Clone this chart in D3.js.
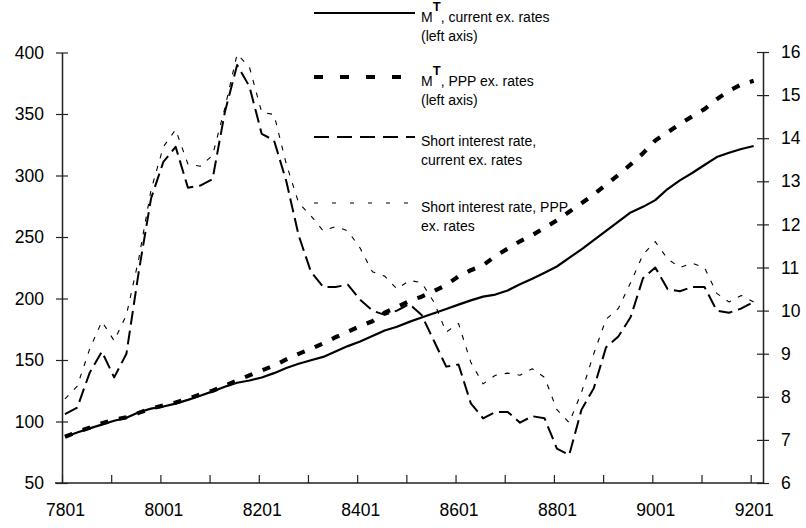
<!DOCTYPE html>
<html>
<head>
<meta charset="utf-8">
<script src="https://cdn.jsdelivr.net/npm/d3@7"></script>
<style>
  html, body { margin: 0; padding: 0; background: #fff; }
  svg { display: block; font-family: "Liberation Sans", Arial, Helvetica, sans-serif; }
</style>
</head>
<body>
<svg id="chart" width="806" height="528"></svg>
<script>
// ---- Data (quarterly, 1978Q1 .. 1992Q1) ----
const quarters = ["7801","7802","7803","7804","7901","7902","7903","7904","8001","8002","8003","8004",
  "8101","8102","8103","8104","8201","8202","8203","8204","8301","8302","8303","8304",
  "8401","8402","8403","8404","8501","8502","8503","8504","8601","8602","8603","8604",
  "8701","8702","8703","8704","8801","8802","8803","8804","8901","8902","8903","8904",
  "9001","9002","9003","9004","9101","9102","9103","9104","9201"];

// M^T, current exchange rates (left axis)
const mtCurrent = [87.6,91,94.4,97.5,100.6,103,107.5,110.5,112.2,114.5,117.6,121,
  124.5,128.2,131.5,133.3,135.8,139.3,143.5,147,149.8,152.5,157,161.3,
  165,169.5,174,177,181,184.5,188,191.5,195,198.5,201.5,203.2,
  206.5,211.5,216,221,226,233,240,247.5,255,262.5,270,274.5,
  280,289,296,302,308.5,315,318.5,321.5,324];

// M^T, PPP exchange rates (left axis)
const mtPPP = [87.6,91.5,95,98.5,101.5,103.5,107,110.5,113,115.5,118.5,122,
  125,129,133.5,137.5,141.5,145.5,150.5,155,159,163.5,168.5,173,
  177.5,181.5,188.5,193,198,201.5,206,211,218,223,227,234.5,
  240.5,246.5,251.5,257.5,263.5,270.5,277.5,284.5,292.5,300.5,309,318,
  328.5,335,342,348,354,362,369,374,377];

// Short interest rate, current exchange rates (right axis)
const rateCurrent = [7.6,7.75,8.55,9.05,8.45,9.0,10.9,12.6,13.45,13.8,12.85,12.9,
  13.05,14.6,15.7,15.2,14.1,13.95,13.0,11.75,10.9,10.55,10.55,10.6,
  10.25,10.0,9.9,10.0,10.15,9.9,9.3,8.7,8.75,7.85,7.5,7.65,
  7.65,7.4,7.55,7.5,6.8,6.65,7.7,8.2,9.15,9.4,9.85,10.75,
  11.0,10.5,10.45,10.55,10.55,10.0,9.95,10.05,10.2];

// Short interest rate, PPP exchange rates (right axis)
const ratePPP = [7.95,8.25,9.1,9.75,9.3,9.9,11.2,12.8,13.8,14.2,13.4,13.35,
  13.6,14.7,15.95,15.65,14.6,14.55,13.4,12.5,12.2,11.85,11.95,11.85,
  11.45,10.9,10.8,10.5,10.7,10.65,10.2,9.5,9.7,8.8,8.3,8.5,
  8.55,8.5,8.65,8.45,7.7,7.4,8.1,9.0,9.8,10.05,10.65,11.3,
  11.6,11.2,11.0,11.1,11.0,10.4,10.2,10.35,10.2];

// Tick labels
const xTickYears = [1978,1979,1980,1981,1982,1983,1984,1985,1986,1987,1988,1989,1990,1991,1992];
const xTickLabels = ["7801","","8001","","8201","","8401","","8601","","8801","","9001","","9201"];
const leftTicks = [50,100,150,200,250,300,350,400];
const rightTicks = [6,7,8,9,10,11,12,13,14,15,16];

// Legend
const legendItems = [
  {key: "mtCurrent", lines: ["M|T|, current ex. rates", "(left axis)"]},
  {key: "mtPPP", lines: ["M|T|, PPP ex. rates", "(left axis)"]},
  {key: "rateCurrent", lines: ["Short interest rate,", "current ex. rates"]},
  {key: "ratePPP", lines: ["Short interest rate, PPP", "ex. rates"]}
];

// ---- Layout ----
const svg = d3.select("#chart");
const plotLeft = 62, plotRight = 763, plotTop = 52.5, plotBottom = 483;

const quarterTime = quarters.map(q => 1900 + (+q.slice(0,2)) + ((+q.slice(2)) - 1) / 4 + 0.06);

const x = d3.scaleLinear().domain([1978, 1992.25]).range([plotLeft, plotRight]);
const yL = d3.scaleLinear().domain([50, 400]).range([plotBottom, plotTop]);
const yR = d3.scaleLinear().domain([6, 16]).range([plotBottom, 52]);

const styles = {
  mtCurrent:   {width: 2.2, dash: null, legendDash: null, legendEnd: 415},
  mtPPP:       {width: 4.2, dash: "8,11", legendDash: "9,17", legendEnd: 402},
  rateCurrent: {width: 2, dash: "14,6", legendDash: "15,8", legendEnd: 415},
  ratePPP:     {width: 1.1, dash: "5,8", legendDash: "4,14", legendEnd: 412}
};

const series = [
  {key: "rateCurrent", values: rateCurrent, y: yR},
  {key: "ratePPP", values: ratePPP, y: yR},
  {key: "mtCurrent", values: mtCurrent, y: yL},
  {key: "mtPPP", values: mtPPP, y: yL}
];

series.forEach(s => {
  const st = styles[s.key];
  const line = d3.line().x((d, i) => x(quarterTime[i])).y(d => s.y(d));
  svg.append("path")
    .datum(s.values)
    .attr("d", line)
    .attr("fill", "none")
    .attr("stroke", "#000")
    .attr("stroke-width", st.width)
    .attr("stroke-linejoin", "round")
    .attr("stroke-dasharray", st.dash);
});

// ---- Axes ----
const axisColor = "#222";
const fontSize = 17.5;

// Left axis
const gL = svg.append("g").attr("transform", `translate(${plotLeft},0)`)
  .call(d3.axisLeft(yL).tickValues(leftTicks).tickSize(0).tickPadding(18).tickFormat(d3.format("d")));
gL.select(".domain").attr("stroke", axisColor).attr("stroke-width", 1.5);
gL.selectAll(".tick").append("line").attr("x1", -6).attr("x2", 6).attr("stroke", axisColor).attr("stroke-width", 1.2);
gL.selectAll(".tick text").attr("font-size", fontSize).attr("fill", "#000").attr("font-family", "Liberation Sans, Arial, sans-serif");

// Right axis
const gR = svg.append("g").attr("transform", `translate(${plotRight},0)`)
  .call(d3.axisRight(yR).tickValues(rightTicks).tickSize(0).tickPadding(18).tickFormat(d3.format("d")));
gR.select(".domain").attr("stroke", axisColor).attr("stroke-width", 1.5);
gR.selectAll(".tick").append("line").attr("x1", -6).attr("x2", 6).attr("stroke", axisColor).attr("stroke-width", 1.2);
gR.selectAll(".tick text").attr("font-size", fontSize).attr("fill", "#000").attr("font-family", "Liberation Sans, Arial, sans-serif");

// Bottom axis
const gB = svg.append("g").attr("transform", `translate(0,${plotBottom})`)
  .call(d3.axisBottom(x).tickValues(xTickYears).tickSize(0).tickPadding(20)
    .tickFormat((d, i) => xTickLabels[i]));
gB.select(".domain").attr("d", `M${plotLeft - 7},0H${plotRight}`).attr("stroke", axisColor).attr("stroke-width", 1.5);
gB.selectAll(".tick").append("line").attr("y1", 0).attr("y2", -8).attr("stroke", axisColor).attr("stroke-width", 1.2);
gB.selectAll(".tick text").attr("font-size", fontSize).attr("fill", "#000")
  .attr("dx", 3).attr("dy", "0.75em").attr("font-family", "Liberation Sans, Arial, sans-serif");

// ---- Legend ----
const legendX1 = 314, legendTextX = 421;
const legendRowY = [13, 77, 137, 203];
const lg = svg.append("g");
legendItems.forEach((item, i) => {
  const st = styles[item.key];
  const ly = legendRowY[i];
  lg.append("line")
    .attr("x1", legendX1).attr("x2", st.legendEnd)
    .attr("y1", ly).attr("y2", ly)
    .attr("stroke", "#000").attr("stroke-width", st.width)
    .attr("stroke-dasharray", st.legendDash);
  item.lines.forEach((txt, j) => {
    const t = lg.append("text")
      .attr("x", legendTextX)
      .attr("y", ly + 9 + j * 19)
      .attr("font-size", 14)
      .attr("fill", "#000");
    if (txt.includes("|")) {
      const parts = txt.split("|");
      t.append("tspan").text(parts[0]);
      t.append("tspan").text(parts[1]).attr("dy", -11).attr("font-weight", "bold").attr("font-size", 13);
      t.append("tspan").text(parts[2]).attr("dy", 11);
    } else {
      t.text(txt);
    }
  });
});
</script>
</body>
</html>
